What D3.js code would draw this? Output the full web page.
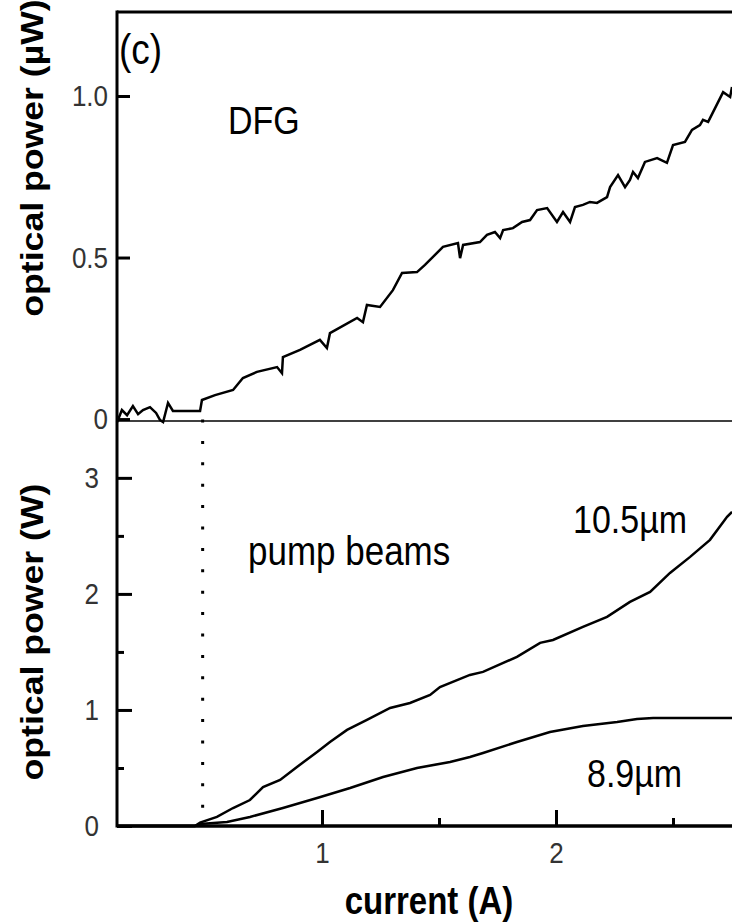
<!DOCTYPE html>
<meta charset="utf-8">
<script src="https://d3js.org/d3.v7.min.js"></script>
<style>
  body { margin: 0; background: #fff; }
  text { font-family: "Liberation Sans", Arial, sans-serif; }
  .tick text { font-size: 26px; }
</style>
<body>
<div id="chart"></div>
<script>

// DFG signal (current A, power uW)
const dfgCurrent = [0.124,0.128,0.145,0.167,0.192,0.214,0.235,0.265,0.291,0.308,0.321,0.342,0.363,0.479,0.487,0.543,0.620,0.662,0.722,0.808,0.829,0.833,0.906,0.991,1.021,1.034,1.150,1.175,1.192,1.248,1.303,1.342,1.406,1.440,1.517,1.581,1.590,1.603,1.675,1.705,1.739,1.761,1.774,1.816,1.855,1.889,1.919,1.962,2.004,2.030,2.060,2.081,2.115,2.145,2.175,2.218,2.231,2.265,2.295,2.316,2.329,2.350,2.380,2.432,2.474,2.500,2.551,2.581,2.615,2.628,2.650,2.714,2.744,2.752];
const dfgPower   = [-0.01,-0.003,0.028,0.012,0.040,0.015,0.028,0.037,0.019,-0.003,-0.009,0.050,0.025,0.025,0.059,0.074,0.090,0.127,0.146,0.161,0.142,0.192,0.214,0.245,0.220,0.266,0.313,0.300,0.353,0.347,0.399,0.452,0.455,0.477,0.533,0.545,0.498,0.539,0.548,0.570,0.579,0.560,0.585,0.591,0.610,0.616,0.647,0.653,0.610,0.641,0.610,0.656,0.663,0.672,0.669,0.687,0.718,0.755,0.718,0.740,0.765,0.746,0.796,0.808,0.793,0.848,0.858,0.895,0.910,0.926,0.920,1.012,0.997,1.028];

// pump beam 10.5 um (current A, power W)
const pump105Current = [0.124,0.457,0.479,0.551,0.620,0.692,0.748,0.821,0.893,0.979,1.034,1.107,1.192,1.291,1.376,1.462,1.504,1.632,1.688,1.833,1.932,1.987,2.115,2.218,2.316,2.402,2.487,2.573,2.658,2.731,2.752];
const pump105Power   = [0,0,0.03,0.078,0.155,0.224,0.336,0.397,0.509,0.638,0.724,0.828,0.914,1.017,1.060,1.129,1.198,1.302,1.328,1.457,1.578,1.603,1.716,1.802,1.931,2.017,2.181,2.319,2.466,2.664,2.707];

// pump beam 8.9 um
const pump89Current = [0.124,0.457,0.479,0.594,0.692,0.833,0.979,1.120,1.261,1.406,1.547,1.632,1.688,1.833,1.974,2.115,2.261,2.346,2.415,2.752];
const pump89Power   = [0,0,0.017,0.034,0.078,0.155,0.241,0.328,0.422,0.500,0.552,0.595,0.629,0.724,0.810,0.862,0.897,0.922,0.931,0.931];

const thresholdCurrent = 0.49;

const xTicks = [1, 2], xMinor = [1.5, 2.5];
const yTopTicks = [0, 0.5, 1.0], yTopLabels = ["0", "0.5", "1.0"];
const yBotTicks = [0, 1, 2, 3], yBotMinor = [0.5, 1.5, 2.5];

const W = 732, H = 924;
const pLeft = 117, pRight = 732, pTop = 12, pMid = 421, pBottom = 826;
const stretch = 1.15; // the source figure's text is drawn a bit tall

const svg = d3.select("#chart").append("svg")
  .attr("width", W).attr("height", H);
svg.append("rect").attr("width", W).attr("height", H).attr("fill", "#fff");

const x = d3.scaleLinear().domain([0.124, 2.752]).range([pLeft, pRight]);
const yTop = d3.scaleLinear().domain([-0.006, 1.26]).range([pMid, pTop]);
const yBot = d3.scaleLinear().domain([0, 3.49]).range([pBottom, pMid]);

const zip = (a, b) => a.map((v, i) => [v, b[i]]);

// curves
const lineTop = d3.line().x(d => x(d[0])).y(d => yTop(d[1]));
const lineBot = d3.line().x(d => x(d[0])).y(d => yBot(d[1]));

svg.append("path").datum(zip(dfgCurrent, dfgPower))
  .attr("d", lineTop).attr("fill", "none").attr("stroke", "#000").attr("stroke-width", 2.5);
svg.append("path").datum(zip(pump105Current, pump105Power))
  .attr("d", lineBot).attr("fill", "none").attr("stroke", "#000").attr("stroke-width", 2.5);
svg.append("path").datum(zip(pump89Current, pump89Power))
  .attr("d", lineBot).attr("fill", "none").attr("stroke", "#000").attr("stroke-width", 2.5);

// threshold dotted line
svg.append("line")
  .attr("x1", x(thresholdCurrent)).attr("x2", x(thresholdCurrent))
  .attr("y1", pMid - 1.5).attr("y2", pBottom - 18)
  .attr("stroke", "#000").attr("stroke-width", 3)
  .attr("stroke-dasharray", "3 18.4");

// frame lines
svg.append("line").attr("x1", pLeft).attr("x2", pRight).attr("y1", pTop).attr("y2", pTop)
  .attr("stroke", "#000").attr("stroke-width", 3);
svg.append("line").attr("x1", pLeft).attr("x2", pRight).attr("y1", pMid).attr("y2", pMid)
  .attr("stroke", "#000").attr("stroke-width", 1.5);

function styleAxis(g) {
  g.attr("font-size", 26);
  g.select(".domain").remove();
  g.selectAll(".tick line").attr("stroke", "#000").attr("stroke-width", 3);
  g.selectAll(".tick text").attr("fill", "#333").attr("font-size", 26);
}

// top y axis
svg.append("g").attr("transform", `translate(${pLeft},0)`)
  .call(d3.axisLeft(yTop).tickValues(yTopTicks).tickFormat((d, i) => yTopLabels[i])
    .tickSizeInner(-13).tickSizeOuter(0).tickPadding(9))
  .call(styleAxis);

// bottom y axis
svg.append("g").attr("transform", `translate(${pLeft},0)`)
  .call(d3.axisLeft(yBot).tickValues(yBotTicks).tickFormat(d3.format("d"))
    .tickSizeInner(-15).tickSizeOuter(0).tickPadding(18))
  .call(styleAxis);
svg.append("g").attr("transform", `translate(${pLeft},0)`)
  .call(d3.axisLeft(yBot).tickValues(yBotMinor).tickFormat("")
    .tickSizeInner(-7).tickSizeOuter(0))
  .call(styleAxis);

// x axis
svg.append("g").attr("transform", `translate(0,${pBottom})`)
  .call(d3.axisBottom(x).tickValues(xTicks).tickFormat(d3.format("d"))
    .tickSizeInner(-16).tickSizeOuter(0).tickPadding(16))
  .call(styleAxis);
svg.append("g").attr("transform", `translate(0,${pBottom})`)
  .call(d3.axisBottom(x).tickValues(xMinor).tickFormat("")
    .tickSizeInner(-8).tickSizeOuter(0))
  .call(styleAxis);

// stretch tick labels vertically around their own position
svg.selectAll(".tick text").each(function() {
  const t = d3.select(this);
  const yy = +t.attr("y") || 0;
  t.attr("transform", `translate(0,${yy}) scale(1,${stretch}) translate(0,${-yy})`);
});

// axis lines
svg.append("line").attr("x1", pLeft).attr("x2", pLeft).attr("y1", pTop - 1.5).attr("y2", pBottom + 1.5)
  .attr("stroke", "#000").attr("stroke-width", 3);
svg.append("line").attr("x1", pLeft).attr("x2", pRight).attr("y1", pBottom).attr("y2", pBottom)
  .attr("stroke", "#000").attr("stroke-width", 3.5);

// axis titles
svg.append("text").attr("transform", `translate(43,158) rotate(-90) scale(${stretch},1)`)
  .attr("text-anchor", "middle").attr("font-weight", "bold").attr("font-size", 31)
  .text("optical power (\u00b5W)");
svg.append("text").attr("transform", `translate(43,632) rotate(-90) scale(${stretch},1)`)
  .attr("text-anchor", "middle").attr("font-weight", "bold").attr("font-size", 31)
  .text("optical power (W)");
svg.append("text").attr("transform", `translate(429,914) scale(1,${stretch})`)
  .attr("text-anchor", "middle").attr("font-weight", "bold").attr("font-size", 33)
  .text("current (A)");

// annotations
function note(tx, ty, size, str, family) {
  const t = svg.append("text").attr("transform", `translate(${tx},${ty}) scale(1,${stretch})`)
    .attr("font-size", size).text(str);
  if (family) t.attr("font-family", family);
}
note(119, 64, 37, "(c)", "'Open Sans', sans-serif");
note(228, 134, 34, "DFG");
note(248, 565, 35, "pump beams");
note(573, 533, 34, "10.5\u00b5m");
note(587, 787, 34, "8.9\u00b5m");

</script>
</body>
